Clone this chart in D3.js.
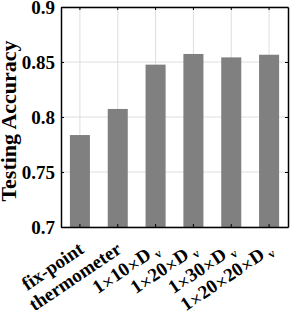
<!DOCTYPE html>
<html>
<head>
<meta charset="utf-8">
<script src="https://cdn.jsdelivr.net/npm/d3@7"></script>
<style>
body { margin: 0; background: #fff; }
text { font-family: "Liberation Serif", "Times New Roman", serif; font-weight: bold; }
</style>
</head>
<body>
<div id="chart"></div>
<script>
// data
var categories = ['fix-point', 'thermometer', '1×10×D', '1×20×D', '1×30×D', '1×20×20×D'];
var subs = ['', '', 'v', 'v', 'v', 'v'];
var accuracy = [0.7836, 0.8073, 0.8476, 0.8573, 0.8542, 0.8566];
var yTicks = [0.7, 0.75, 0.8, 0.85, 0.9];
var yTickLabels = ['0.7', '0.75', '0.8', '0.85', '0.9'];

var width = 291, height = 317;
var mLeft = 61, mRight = 288, mTop = 7, mBottom = 227;

var svg = d3.select('#chart')
    .append('svg')
    .attr('width', width)
    .attr('height', height);

var x = d3.scaleBand()
    .domain(categories)
    .range([mLeft, mRight])
    .paddingInner(0.47)
    .paddingOuter(0.235);

var y = d3.scaleLinear()
    .domain([0.7, 0.9])
    .range([mBottom, mTop]);

// grid
svg.append('g')
    .selectAll('line')
    .data(yTicks)
    .join('line')
    .attr('x1', mLeft).attr('x2', mRight)
    .attr('y1', d => y(d)).attr('y2', d => y(d))
    .attr('stroke', '#dedede')
    .attr('stroke-width', 1);

svg.append('g')
    .selectAll('line')
    .data(categories)
    .join('line')
    .attr('x1', d => x(d) + x.bandwidth() / 2).attr('x2', d => x(d) + x.bandwidth() / 2)
    .attr('y1', mTop).attr('y2', mBottom)
    .attr('stroke', '#dedede')
    .attr('stroke-width', 1);

// bars
svg.append('g')
    .selectAll('rect')
    .data(accuracy)
    .join('rect')
    .attr('x', (d, i) => x(categories[i]))
    .attr('width', x.bandwidth())
    .attr('y', d => y(d))
    .attr('height', d => mBottom - y(d))
    .attr('fill', '#808080');

// axes (ticks inward, box)
var yAxisL = d3.axisLeft(y).tickValues(yTicks).tickFormat((d, i) => yTickLabels[i]).tickSizeInner(-3).tickSizeOuter(0).tickPadding(6);
var yAxisR = d3.axisRight(y).tickValues(yTicks).tickFormat('').tickSizeInner(-3).tickSizeOuter(0);
var xAxisB = d3.axisBottom(x).tickFormat('').tickSizeInner(-3).tickSizeOuter(0);
var xAxisT = d3.axisTop(x).tickFormat('').tickSizeInner(-3).tickSizeOuter(0);

var gl = svg.append('g').attr('transform', `translate(${mLeft},0)`).call(yAxisL);
svg.append('g').attr('transform', `translate(${mRight},0)`).call(yAxisR);
svg.append('g').attr('transform', `translate(0,${mBottom})`).call(xAxisB);
svg.append('g').attr('transform', `translate(0,${mTop})`).call(xAxisT);

svg.selectAll('.domain').attr('stroke', '#000').attr('stroke-width', 1.5);
svg.selectAll('.tick line').attr('stroke', '#000');

gl.selectAll('text')
    .style('font-size', '19px')
    .style('font-family', '"Liberation Serif", serif')
    .style('font-weight', 'bold')
    .attr('fill', '#000');

// rotated category labels, × drawn thin like the TeX \times
var xl = svg.append('g');
categories.forEach(function(c, i) {
    var cx = x(c) + x.bandwidth() / 2 + 5;
    var t = xl.append('text')
        .attr('transform', `translate(${cx},${mBottom + 25})rotate(-34)`)
        .attr('text-anchor', 'end')
        .style('font-size', '19px');
    c.split('×').forEach(function(part, j) {
        if (j > 0) {
            t.append('tspan')
                .style('font-weight', 'normal')
                .style('font-family', '"DejaVu Sans", sans-serif')
                .style('font-size', '14px')
                .text('×');
        }
        t.append('tspan').text(part);
    });
    if (subs[i]) {
        t.append('tspan')
            .attr('dx', 4)
            .attr('dy', 4)
            .style('font-size', '12px')
            .text(subs[i]);
    }
});

// y label
svg.append('text')
    .attr('transform', `translate(16,121)rotate(-90)`)
    .attr('text-anchor', 'middle')
    .style('font-size', '22px')
    .text('Testing Accuracy');
</script>
</body>
</html>
